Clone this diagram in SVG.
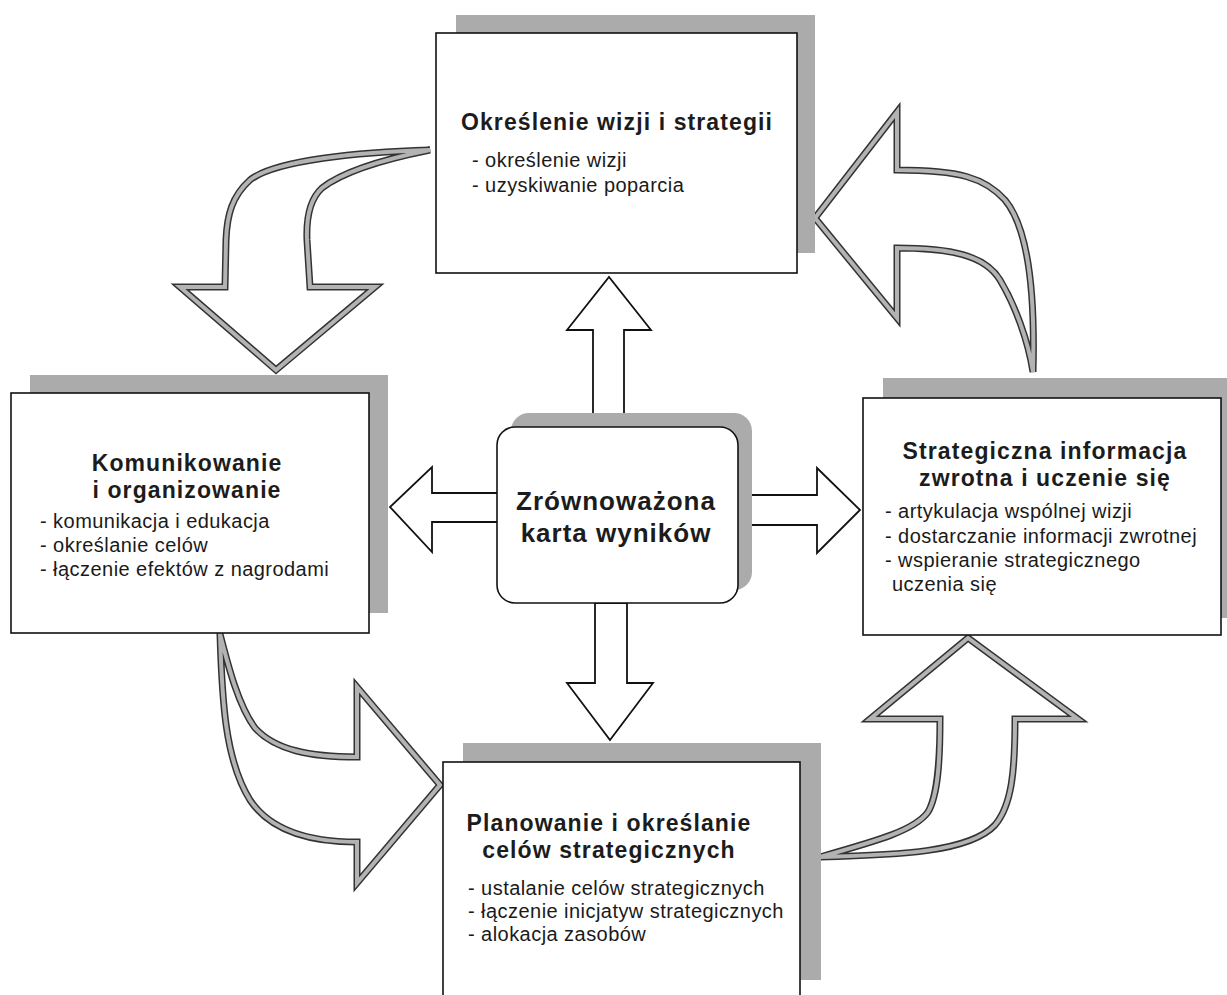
<svg xmlns="http://www.w3.org/2000/svg" width="1227" height="995" viewBox="0 0 1227 995">
<style>
.shadow{fill:#ababab;}
.box{fill:#fff;stroke:#111;stroke-width:1.6;}
.title{font-family:"Liberation Sans",Arial,sans-serif;font-weight:bold;font-size:23px;letter-spacing:1.1px;fill:#1c1c1c;text-anchor:middle;}
.ctitle{font-family:"Liberation Sans",Arial,sans-serif;font-weight:bold;font-size:26px;letter-spacing:1px;fill:#1c1c1c;text-anchor:middle;}
.item{font-family:"Liberation Sans",Arial,sans-serif;font-size:20px;letter-spacing:0.45px;fill:#1a1a1a;}
.sarrow{fill:#fff;stroke:#111;stroke-width:1.8;stroke-linejoin:miter;}
.carrow-out{fill:#fff;stroke:#333;stroke-width:7;stroke-linejoin:miter;stroke-miterlimit:10;}
.carrow-in{fill:none;stroke:#b3b3b3;stroke-width:4;stroke-linejoin:miter;stroke-miterlimit:10;}
</style>

<g id="connectors">
  <path class="sarrow" d="M593,414 L593,330 L567,330 L609,277 L651,330 L624,330 L624,414 Z"/>
  <path class="sarrow" d="M498,493 L432,493 L432,467 L390,507 L432,552 L432,522 L498,522 Z"/>
  <path class="sarrow" d="M750,495 L817,495 L817,468 L860,510 L817,553 L817,525 L750,525 Z"/>
  <path class="sarrow" d="M595,603 L595,683 L567,683 L610,740 L653,683 L627,683 L627,603 Z"/>
  <g id="arrow-top-left">
    <path class="carrow-out" d="M430,150 C 360,152 275,160 250,180 C 232,196 227,215 226,240 L225,287 L180,287 L276,370 L375,287 L310,287 L307,240 C 306,215 311,198 322,188 C 345,170 390,158 430,150 Z"/>
    <path class="carrow-in" d="M430,150 C 360,152 275,160 250,180 C 232,196 227,215 226,240 L225,287 L180,287 L276,370 L375,287 L310,287 L307,240 C 306,215 311,198 322,188 C 345,170 390,158 430,150 Z"/>
  </g>
  <g id="arrow-top-right">
    <path class="carrow-out" d="M1033,372 C 1035,300 1030,230 1005,200 C 985,178 960,170 897,170 L897,112 L815,218 L897,318 L897,248 C 950,248 985,255 1000,280 C 1015,305 1028,340 1033,372 Z"/>
    <path class="carrow-in" d="M1033,372 C 1035,300 1030,230 1005,200 C 985,178 960,170 897,170 L897,112 L815,218 L897,318 L897,248 C 950,248 985,255 1000,280 C 1015,305 1028,340 1033,372 Z"/>
  </g>
  <g id="arrow-bottom-left">
    <path class="carrow-out" d="M220,634 C 222,700 225,760 250,800 C 270,830 310,842 357,842 L357,883 L440,785 L357,687 L357,757 C 310,757 275,750 255,728 C 238,705 228,665 220,634 Z"/>
    <path class="carrow-in" d="M220,634 C 222,700 225,760 250,800 C 270,830 310,842 357,842 L357,883 L440,785 L357,687 L357,757 C 310,757 275,750 255,728 C 238,705 228,665 220,634 Z"/>
  </g>
  <g id="arrow-bottom-right">
    <path class="carrow-out" d="M820,857 C 880,840 915,830 928,812 C 938,795 940,760 940,719 L870,719 L968,638 L1078,719 L1015,719 C 1015,770 1012,805 995,825 C 970,852 900,855 820,857 Z"/>
    <path class="carrow-in" d="M820,857 C 880,840 915,830 928,812 C 938,795 940,760 940,719 L870,719 L968,638 L1078,719 L1015,719 C 1015,770 1012,805 995,825 C 970,852 900,855 820,857 Z"/>
  </g>
</g>

<g id="node-top">
  <rect class="shadow" x="456" y="15" width="359" height="238"/>
  <rect class="box" x="436" y="33" width="361" height="240"/>
  <text class="title" x="617" y="130">Określenie wizji i strategii</text>
  <text class="item" x="472" y="167">- określenie wizji</text>
  <text class="item" x="472" y="192">- uzyskiwanie poparcia</text>
</g>

<g id="node-left">
  <rect class="shadow" x="30" y="375" width="358" height="238"/>
  <rect class="box" x="11" y="393" width="358" height="240"/>
  <text class="title" x="187" y="471">Komunikowanie</text>
  <text class="title" x="187" y="498">i organizowanie</text>
  <text class="item" x="40" y="528">- komunikacja i edukacja</text>
  <text class="item" x="40" y="552">- określanie celów</text>
  <text class="item" x="40" y="576">- łączenie efektów z nagrodami</text>
</g>

<g id="node-right">
  <rect class="shadow" x="883" y="378" width="350" height="240"/>
  <rect class="box" x="863" y="398" width="358" height="237"/>
  <text class="title" x="1045" y="459">Strategiczna informacja</text>
  <text class="title" x="1045" y="486">zwrotna i uczenie się</text>
  <text class="item" x="885" y="518">- artykulacja wspólnej wizji</text>
  <text class="item" x="885" y="543">- dostarczanie informacji zwrotnej</text>
  <text class="item" x="885" y="567">- wspieranie strategicznego</text>
  <text class="item" x="892" y="591">uczenia się</text>
</g>

<g id="node-bottom">
  <rect class="shadow" x="463" y="743" width="358" height="237"/>
  <rect class="box" x="443" y="762" width="357" height="240"/>
  <text class="title" x="609" y="831">Planowanie i określanie</text>
  <text class="title" x="609" y="858">celów strategicznych</text>
  <text class="item" x="468" y="895">- ustalanie celów strategicznych</text>
  <text class="item" x="468" y="918">- łączenie inicjatyw strategicznych</text>
  <text class="item" x="468" y="941">- alokacja zasobów</text>
</g>

<g id="node-center">
  <rect class="shadow" x="511" y="413" width="241" height="177" rx="18"/>
  <rect class="box" x="497" y="427" width="241" height="176" rx="18"/>
  <text class="ctitle" x="616" y="510">Zrównoważona</text>
  <text class="ctitle" x="616" y="542">karta wyników</text>
</g>
</svg>
